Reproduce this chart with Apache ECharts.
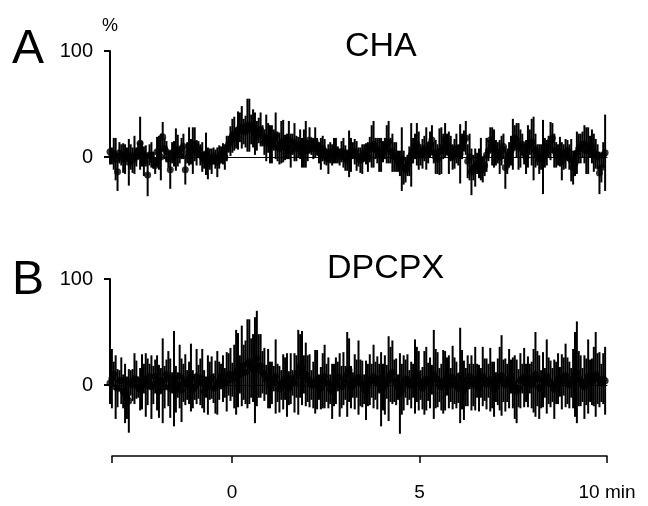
<!DOCTYPE html>
<html>
<head>
<meta charset="utf-8">
<script src="https://cdn.jsdelivr.net/npm/echarts@6/dist/echarts.min.js"></script>
<style>
  html, body { margin: 0; padding: 0; background: #fff; }
  #chart { width: 648px; height: 506px; }
</style>
</head>
<body>
<div id="chart"></div>
<script>
// sampling grid: one point every 0.05 min (3 s) from -3.2 min, 20 values per row = 1 min
var tStart = -3.2;
var tStep = 0.05;

// panel A (CHA), % change, mean and error
var meanA = [
  5, 1, 3, -2, -14, 4, 2, -1, -2, 3, -5, 0, -3, 2, 0, 6, 13, 3, -4, 1,
  -17, 2, 2, -3, -8, 5, 4, 0, 19, 8, 5, -2, -12, 4, 3, 7, 6, 2, 8, 10,
  -12, 4, 10, 5, 6, 12, 4, 7, 2, 0, -3, 3, -6, -2, -4, 1, -2, -5, 0, 2,
  3, 0, 8, 12, 15, 20, 22, 18, 25, 28, 28, 24, 24, 30, 30, 26, 27, 22, 20, 25,
  26, 20, 14, 18, 18, 12, 12, 16, 20, 10, 8, 14, 15, 9, 10, 16, 6, 12, 14, 8,
  9, 12, 4, 8, 12, 6, 16, 10, 8, 14, 10, 4, 3, 8, 5, 0, -2, 4, 2, 6,
  6, 2, 0, 5, 4, -1, -3, 3, 2, 6, 5, 1, 0, -3, -2, 4, 3, 0, 7, 10,
  12, 8, 6, 2, 2, 5, 8, 12, 14, 6, 4, 0, 0, -4, -6, -2, -10, -12, -8, -4,
  2, 6, 10, 12, 6, 2, 3, 8, 8, 4, 12, 16, 4, 0, -2, 5, 6, 10, 16, 12,
  4, 8, 0, 3, 8, 2, 3, 10, 15, 18, -4, 0, -14, -10, -10, -6, -6, -2, -12, -8,
  2, 6, 16, 10, 8, 4, 4, 0, 6, 10, -10, -4, 2, 6, 12, 18, 16, 10, 8, 12,
  3, 0, 10, 14, 14, 8, 6, 2, -2, 0, 0, 4, 4, 10, 15, 18, 6, 2, 2, 5,
  -4, 0, 3, 6, 0, -3, -10, -6, 4, 8, 8, 12, 12, 6, 6, 10, 10, 4, 3, 0,
  -15, -10, 2, 4
];
var errA = [
  12, 8, 15, 20, 18, 10, 10, 14, 14, 6, 22, 12, 12, 18, 9, 8, 25, 12, 14, 10,
  20, 10, 12, 8, 8, 14, 16, 22, 14, 10, 10, 8, 18, 10, 12, 20, 15, 8, 10, 12,
  14, 10, 18, 12, 22, 16, 12, 8, 10, 14, 8, 20, 15, 10, 12, 8, 9, 14, 11, 8,
  10, 12, 12, 8, 14, 16, 16, 10, 18, 14, 20, 12, 15, 25, 25, 14, 18, 20, 14, 12,
  16, 10, 12, 22, 14, 18, 18, 10, 22, 14, 15, 20, 20, 12, 12, 18, 16, 10, 18, 12,
  10, 14, 14, 18, 22, 10, 12, 8, 10, 14, 8, 10, 15, 12, 12, 8, 14, 10, 10, 12,
  12, 8, 8, 10, 14, 12, 10, 22, 16, 8, 12, 14, 9, 12, 14, 8, 10, 14, 12, 20,
  22, 10, 12, 16, 16, 10, 10, 18, 20, 12, 18, 14, 14, 10, 12, 30, 16, 12, 10, 14,
  30, 12, 12, 20, 18, 10, 14, 12, 20, 10, 12, 14, 10, 16, 14, 22, 22, 12, 16, 10,
  20, 12, 12, 14, 14, 10, 28, 12, 10, 16, 16, 22, 22, 12, 18, 10, 14, 20, 12, 10,
  16, 10, 12, 18, 18, 12, 10, 16, 14, 12, 20, 12, 12, 14, 24, 12, 16, 22, 18, 10,
  10, 16, 20, 12, 22, 30, 16, 10, 14, 12, 35, 14, 12, 10, 18, 14, 16, 12, 10, 14,
  18, 12, 14, 10, 12, 20, 16, 12, 20, 14, 14, 12, 18, 22, 22, 10, 16, 18, 14, 12,
  20, 14, 12, 36
];

// panel B (DPCPX)
var meanB = [
  2, 6, 10, -2, -3, 4, 4, -6, -8, -12, -15, 2, 0, 6, 5, -2, -4, 3, 6, 0,
  3, 8, -2, 0, 8, 2, -6, 4, 4, -2, 10, 6, -3, 2, 6, -4, 0, 8, -5, 2,
  5, 0, 2, 7, -4, -2, 8, 3, 3, 6, -6, -2, 0, 4, 7, -3, -2, 2, 4, 8,
  6, 2, 3, 10, 10, 5, 8, 12, 14, 10, 18, 12, 12, 20, 22, 16, 16, 14, 25, 18,
  18, 12, 10, 5, 6, 0, 2, 6, 8, 2, -4, 0, 3, 6, 0, -3, 6, 2, 2, 8,
  12, 18, 16, 10, 10, 6, 4, 0, 0, 3, 5, -2, -3, 4, 8, 2, 2, -4, -6, 0,
  4, 8, 0, -2, 6, 2, 10, 14, -2, 0, 3, 6, 7, 2, 1, -4, -5, 0, 5, 4,
  8, 4, 2, 6, -4, -2, 0, 3, 6, 10, 12, 4, 3, -2, -8, -4, 2, 6, 5, 0,
  0, 4, 8, 10, 4, 0, -3, 2, 6, 3, 2, 5, 10, 6, 5, 0, -2, 3, 4, 8,
  3, 0, 7, 4, 0, -3, 9, 5, -5, -2, 4, 8, 2, 0, 6, 4, -3, 2, 8, 5,
  1, 4, 5, 0, -4, -2, 3, 6, 9, 4, 0, 2, 6, 8, 2, -2, -6, -3, 4, 6,
  7, 2, 3, 6, 0, 4, 10, 6, -2, -4, 5, 2, 8, 4, 1, 0, -4, 2, 6, 3,
  3, 8, 9, 4, 0, 2, 6, 10, 12, 6, 4, 0, -2, 3, 8, 4, 3, 8, 10, 6,
  5, 2, 6, 4
];
var errB = [
  20, 28, 12, 30, 18, 10, 22, 16, 28, 20, 30, 12, 15, 24, 18, 10, 20, 26, 14, 30,
  22, 12, 30, 18, 16, 26, 25, 12, 40, 20, 14, 26, 28, 10, 45, 22, 12, 30, 30, 18,
  24, 14, 20, 32, 18, 12, 26, 16, 22, 28, 20, 10, 28, 18, 20, 14, 25, 30, 18, 12,
  22, 14, 28, 20, 25, 16, 30, 40, 35, 18, 38, 26, 30, 42, 40, 28, 32, 50, 45, 30,
  30, 20, 25, 14, 28, 22, 20, 12, 35, 18, 22, 14, 26, 20, 30, 16, 24, 12, 28, 20,
  40, 30, 35, 18, 30, 22, 25, 14, 22, 30, 28, 12, 20, 26, 30, 18, 24, 14, 26, 20,
  22, 14, 30, 20, 25, 16, 40, 30, 20, 12, 26, 18, 35, 22, 22, 14, 28, 20, 24, 16,
  30, 18, 25, 14, 35, 22, 28, 16, 40, 26, 30, 20, 22, 12, 38, 24, 26, 18, 24, 14,
  22, 16, 35, 26, 28, 14, 20, 30, 30, 18, 24, 14, 42, 28, 26, 16, 22, 30, 28, 18,
  25, 16, 30, 22, 22, 14, 45, 28, 28, 18, 24, 12, 26, 20, 30, 16, 22, 14, 28, 20,
  24, 16, 30, 22, 26, 14, 22, 30, 38, 20, 25, 18, 28, 16, 24, 30, 30, 18, 26, 14,
  28, 18, 24, 14, 22, 30, 40, 26, 30, 18, 26, 14, 35, 22, 22, 16, 28, 20, 24, 14,
  26, 18, 30, 22, 22, 14, 28, 40, 48, 26, 24, 16, 30, 22, 35, 20, 22, 28, 40, 24,
  26, 18, 24, 32
];

var yTicks = [0, 100];
var xTicks = [-3.2, 0, 5, 10];
var xLabels = [0, 5, 10];

var font = '"Liberation Sans", Arial, Helvetica, sans-serif';

function rows(means, errs) {
  return means.map(function (m, i) {
    var t = Math.round((tStart + i * tStep) * 100) / 100;
    return [t, m, errs[i]];
  });
}
var dataA = rows(meanA, errA);
var dataB = rows(meanB, errB);

function errBars(data, idx) {
  return {
    type: 'custom',
    xAxisIndex: idx,
    yAxisIndex: idx,
    data: data,
    clip: false,
    silent: true,
    renderItem: function (params, api) {
      var x = api.value(0), m = api.value(1), e = api.value(2);
      var p1 = api.coord([x, m + e]);
      var p2 = api.coord([x, m - e]);
      return {
        type: 'line',
        shape: { x1: p1[0], y1: p1[1], x2: p2[0], y2: p2[1] },
        style: { stroke: '#000', lineWidth: 2 }
      };
    }
  };
}
function dots(data, idx) {
  return {
    type: 'scatter',
    xAxisIndex: idx,
    yAxisIndex: idx,
    data: data.map(function (d) { return [d[0], d[1]]; }),
    symbolSize: 7,
    clip: false,
    silent: true,
    itemStyle: { color: '#000' }
  };
}

function zeroAxis(idx) {
  return {
    type: 'value', gridIndex: idx, min: tStart, max: 10,
    axisLine: { show: true, onZero: true, lineStyle: { color: '#000', width: 1 } },
    axisTick: { show: false }, axisLabel: { show: false }, splitLine: { show: false }
  };
}
function valAxis(idx, name) {
  return {
    type: 'value', gridIndex: idx, min: 0, max: 100,
    name: name, nameLocation: 'end', nameGap: 16,
    nameTextStyle: { color: '#000', fontSize: 18, fontFamily: font, align: 'center' },
    axisLine: { show: true, onZero: false, lineStyle: { color: '#000', width: 2 } },
    axisTick: { show: true, length: 6, customValues: yTicks, lineStyle: { color: '#000', width: 2 } },
    axisLabel: { color: '#000', fontSize: 20, fontFamily: font, margin: 17, customValues: yTicks },
    splitLine: { show: false }
  };
}

var chart = echarts.init(document.getElementById('chart'), null, { renderer: 'canvas' });
chart.setOption({
  backgroundColor: '#fff',
  animation: false,
  grid: [
    { left: 110, right: 41, top: 51, height: 106 },
    { left: 110, right: 41, top: 279, height: 106 },
    { left: 112, right: 41, top: 455, height: 1 }
  ],
  xAxis: [
    zeroAxis(0),
    zeroAxis(1),
    {
      type: 'value', gridIndex: 2, min: tStart, max: 10,
      axisLine: { show: true, onZero: false, lineStyle: { color: '#000', width: 1.5 } },
      axisTick: { show: true, length: 7, customValues: xTicks, lineStyle: { color: '#000', width: 1.5 } },
      axisLabel: {
        color: '#000', fontSize: 19, fontFamily: font, margin: 27,
        customValues: xLabels,
        formatter: function (v) { return v === 10 ? '10 min' : String(v); }
      },
      splitLine: { show: false }
    }
  ],
  yAxis: [
    valAxis(0, '%'),
    valAxis(1, ''),
    { type: 'value', gridIndex: 2, show: false, min: 0, max: 1 }
  ],
  graphic: [
    { type: 'text', left: 12, top: 26, style: { text: 'A', fontSize: 48, fontFamily: font, fill: '#000' } },
    { type: 'text', left: 12, top: 257, style: { text: 'B', fontSize: 48, fontFamily: font, fill: '#000' } },
    { type: 'text', left: 345, top: 30, style: { text: 'CHA', fontSize: 34, fontFamily: font, fill: '#000' } },
    { type: 'text', left: 327, top: 252, style: { text: 'DPCPX', fontSize: 34, fontFamily: font, fill: '#000' } }
  ],
  series: [
    errBars(dataA, 0), dots(dataA, 0),
    errBars(dataB, 1), dots(dataB, 1)
  ]
});
</script>
</body>
</html>
